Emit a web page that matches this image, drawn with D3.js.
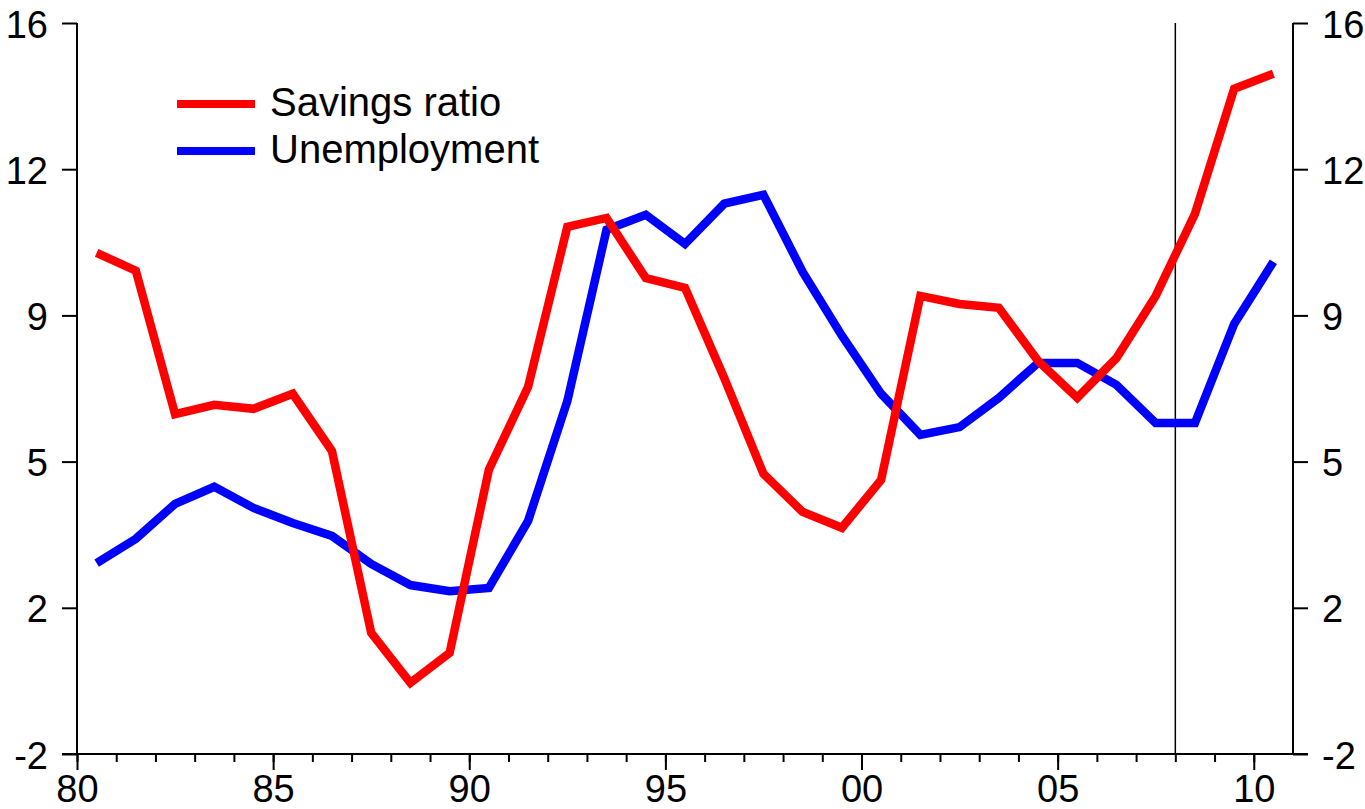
<!DOCTYPE html>
<html>
<head>
<meta charset="utf-8">
<script src="https://cdn.jsdelivr.net/npm/d3@7"></script>
<style>
  body { margin: 0; background: #fff; }
  svg text { font-family: "Liberation Sans", Arial, sans-serif; fill: #000; }
</style>
</head>
<body>
<svg width="1365" height="809"></svg>
<script>
// annual data, plotted at mid-year
var years = d3.range(1980, 2011);

var savingsRatio = [10.34, 9.90, 6.37, 6.60, 6.50, 6.87, 5.46, 0.98, -0.25, 0.49,
  5.00, 7.04, 10.98, 11.20, 9.72, 9.48, 7.26, 4.90, 3.96, 3.57,
  4.75, 9.28, 9.08, 8.99, 7.68, 6.77, 7.75, 9.28, 11.30, 14.38, 14.75];

var unemployment = [2.70, 3.30, 4.16, 4.58, 4.06, 3.69, 3.37, 2.68, 2.16, 2.01,
  2.09, 3.74, 6.69, 10.91, 11.28, 10.56, 11.55, 11.77, 9.87, 8.30,
  6.87, 5.86, 6.05, 6.77, 7.63, 7.63, 7.09, 6.15, 6.15, 8.59, 10.12];

var seriesNames = ["Savings ratio", "Unemployment"];
var seriesColors = ["#ff0000", "#0000ff"];

var yTicks = [-2, 1.6, 5.2, 8.8, 12.4, 16];
var yTickLabels = ["-2", "2", "5", "9", "12", "16"];
var xMajor = [1980, 1985, 1990, 1995, 2000, 2005, 2010];
var xMajorLabels = ["80", "85", "90", "95", "00", "05", "10"];
var xMinor = d3.range(1980, 2011);
var markerYear = 2008;

var svg = d3.select("svg");

var x = d3.scaleLinear().domain([1980, 2011]).range([77, 1293]);
var y = d3.scaleLinear().domain([-2, 16]).range([754, 23]);

// y axes, left and right
var yLeft = d3.axisLeft(y)
  .tickValues(yTicks)
  .tickSize(15)
  .tickPadding(14)
  .tickFormat(function(d, i) { return yTickLabels[i]; });

var yRight = d3.axisRight(y)
  .tickValues(yTicks)
  .tickSize(15)
  .tickPadding(14)
  .tickFormat(function(d, i) { return yTickLabels[i]; });

svg.append("g")
  .attr("class", "axis yaxis")
  .attr("transform", "translate(77,0)")
  .call(yLeft);

svg.append("g")
  .attr("class", "axis yaxis")
  .attr("transform", "translate(1293,0)")
  .call(yRight);

// x axis: minor yearly ticks plus labelled majors
var xMinorAxis = d3.axisBottom(x)
  .tickValues(xMinor)
  .tickSize(8)
  .tickFormat("");

var xMajorAxis = d3.axisBottom(x)
  .tickValues(xMajor)
  .tickSize(16)
  .tickPadding(5)
  .tickFormat(function(d, i) { return xMajorLabels[i]; });

svg.append("g")
  .attr("class", "axis")
  .attr("transform", "translate(0,754)")
  .call(xMinorAxis);

svg.append("g")
  .attr("class", "axis xaxis")
  .attr("transform", "translate(0,754)")
  .call(xMajorAxis);

svg.selectAll(".axis path").remove();
svg.selectAll(".axis line")
  .attr("stroke", "#000")
  .attr("stroke-width", 2);
svg.selectAll(".axis text")
  .style("font-size", "38px")
  .attr("fill", "#000");
svg.selectAll(".yaxis text").attr("dy", "0.37em");

// axis lines
svg.append("line")
  .attr("x1", x(1980)).attr("x2", x(1980))
  .attr("y1", y(16)).attr("y2", y(-2))
  .attr("stroke", "#000").attr("stroke-width", 2);
svg.append("line")
  .attr("x1", x(2011)).attr("x2", x(2011))
  .attr("y1", y(16)).attr("y2", y(-2))
  .attr("stroke", "#000").attr("stroke-width", 2);
svg.append("line")
  .attr("x1", x(1980) - 15).attr("x2", x(2011) + 15)
  .attr("y1", y(-2)).attr("y2", y(-2))
  .attr("stroke", "#000").attr("stroke-width", 2);

// vertical marker
svg.append("line")
  .attr("x1", x(markerYear)).attr("x2", x(markerYear))
  .attr("y1", y(16)).attr("y2", y(-2))
  .attr("stroke", "#000").attr("stroke-width", 1.5);

var line = d3.line()
  .x(function(d) { return x(d[0] + 0.5); })
  .y(function(d) { return y(d[1]); });

[unemployment, savingsRatio].forEach(function(vals) {
  var idx = vals === savingsRatio ? 0 : 1;
  svg.append("path")
    .datum(years.map(function(yr, i) { return [yr, vals[i]]; }))
    .attr("fill", "none")
    .attr("stroke", seriesColors[idx])
    .attr("stroke-width", 8.5)
    .attr("stroke-linejoin", "miter")
    .attr("d", line);
});

// legend
var legend = svg.append("g")
  .attr("class", "legend")
  .attr("transform", "translate(177,104)");

var items = legend.selectAll("g")
  .data(seriesNames)
  .enter().append("g")
  .attr("transform", function(d, i) { return "translate(0," + (i * 47) + ")"; });

items.append("line")
  .attr("x1", 0).attr("x2", 78)
  .attr("stroke", function(d, i) { return seriesColors[i]; })
  .attr("stroke-width", 8);

items.append("text")
  .attr("x", 93)
  .attr("y", 12)
  .style("font-size", "40px")
  .text(function(d) { return d; });
</script>
</body>
</html>
